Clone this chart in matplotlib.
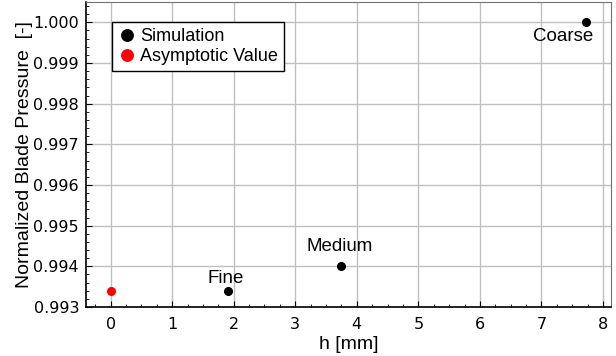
import matplotlib.pyplot as plt
from matplotlib.ticker import AutoMinorLocator

# mesh sizes and normalized blade pressure
h_sim = [1.9, 3.75, 7.72]
p_sim = [0.9934, 0.9940, 1.0000]
labels = ['Fine', 'Medium', 'Coarse']
h_asym = [0.0]
p_asym = [0.9934]

fig = plt.figure(figsize=(6.16, 3.56), dpi=100)
ax = fig.add_axes([86 / 616, 1 - 307 / 356, (611 - 86) / 616, (307 - 2) / 356])

ax.plot(h_sim, p_sim, 'o', color='black', markersize=5.5, label='Simulation')
ax.plot(h_asym, p_asym, 'o', color='red', markersize=5.5, label='Asymptotic Value')

# text next to each mesh point
offsets = [(-1, 3, 'bottom'), (-1, 8, 'bottom'), (-16.5, -4, 'top')]
for x, y, t, (dx, dy, va) in zip(h_sim, p_sim, labels, offsets):
    ax.annotate(t, (x, y), xytext=(dx, dy), textcoords='offset points',
                ha='center', va=va, fontsize=13.5, family='Liberation Sans')

ax.set_xlim(-0.4, 8.13)
ax.set_ylim(0.993, 1.0005)
ax.set_xticks(range(0, 9))
ax.set_yticks([0.993, 0.994, 0.995, 0.996, 0.997, 0.998, 0.999, 1.000])
ax.set_yticklabels(['%.3f' % v for v in ax.get_yticks()])
ax.xaxis.set_minor_locator(AutoMinorLocator(4))
ax.yaxis.set_minor_locator(AutoMinorLocator(5))
ax.tick_params(which='both', direction='in', labelsize=11.5)
ax.tick_params(which='major', length=4, pad=5)
ax.tick_params(axis='x', which='major', pad=7)
ax.tick_params(which='minor', length=2)
ax.grid(True, which='major', color='#c0c0c0', linewidth=1)
ax.set_axisbelow(True)

for s in ['top', 'right']:
    ax.spines[s].set_color('#707070')
ax.spines['left'].set_linewidth(1.2)
ax.spines['bottom'].set_linewidth(1.2)

ax.set_xlabel('h [mm]', fontsize=14, family='Liberation Sans', labelpad=3)
ax.set_ylabel('Normalized Blade Pressure  [-]', fontsize=14, family='Liberation Sans', labelpad=0)

leg = ax.legend(loc='upper left', bbox_to_anchor=(0.0495, 0.934),
                prop={'family': 'Liberation Sans', 'size': 13}, fancybox=False,
                markerscale=1.5, handletextpad=0.2, handlelength=1.0,
                borderpad=0.35, labelspacing=0.15, borderaxespad=0)
leg.get_frame().set_edgecolor('black')
leg.get_frame().set_alpha(1)

fig.savefig('out.png', dpi=100)
